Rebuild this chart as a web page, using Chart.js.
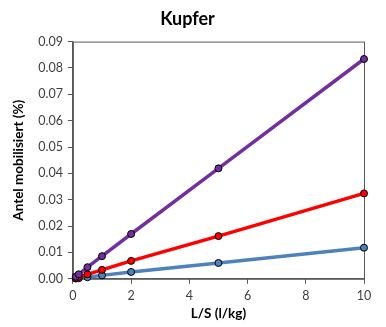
<!DOCTYPE html>
<html>
<head>
<meta charset="utf-8">
<script src="https://cdn.jsdelivr.net/npm/chart.js@4/dist/chart.umd.min.js"></script>
<style>
  html, body { margin: 0; padding: 0; background: #fff; }
  #wrap { width: 386px; height: 327px; }
</style>
</head>
<body>
<div id="wrap"><canvas id="kupferChart" width="386" height="327"></canvas></div>
<script>
const lsValues = [0.1, 0.2, 0.5, 1, 2, 5, 10];
const purpleValues = [0.0008, 0.0017, 0.0044, 0.0086, 0.0170, 0.0419, 0.0834];
const redValues = [0.0003, 0.0007, 0.0017, 0.0034, 0.0068, 0.0162, 0.0324];
const blueValues = [0.0001, 0.0002, 0.0006, 0.0013, 0.0026, 0.0060, 0.0118];
const xTicks = [0, 2, 4, 6, 8, 10];

const axisColor = "#595959";
const fontFamily = "Lato, 'Open Sans', sans-serif";

function toPoints(values) {
  return lsValues.map((x, i) => ({ x: x, y: values[i] }));
}

function makeSeries(label, values, color) {
  return {
    label: label,
    data: toPoints(values),
    borderColor: color,
    backgroundColor: color,
    borderWidth: 3.5,
    pointRadius: 3.5,
    pointBorderColor: "#000",
    pointBorderWidth: 1,
    pointBackgroundColor: color,
    tension: 0,
    clip: false,
  };
}

// draw the box round the plot area (top and right sides too)
const frameBox = {
  id: "frameBox",
  beforeDatasetsDraw(chart) {
    const { ctx, chartArea } = chart;
    ctx.save();
    ctx.strokeStyle = axisColor;
    ctx.lineWidth = 1;
    ctx.strokeRect(chartArea.left + 0.5, chartArea.top + 0.5,
      chartArea.right - chartArea.left, chartArea.bottom - chartArea.top);
    ctx.restore();
  },
};

new Chart(document.getElementById("kupferChart").getContext("2d"), {
  type: "line",
  data: {
    datasets: [
      makeSeries("Serie 1", purpleValues, "#7030A0"),
      makeSeries("Serie 2", redValues, "#FF0000"),
      makeSeries("Serie 3", blueValues, "#4F81BD"),
    ],
  },
  options: {
    responsive: false,
    animation: false,
    layout: { padding: { top: 6, right: 22, bottom: 0, left: 11 } },
    plugins: {
      legend: { display: false },
      tooltip: { enabled: false },
      title: {
        display: true,
        text: "Kupfer",
        color: "#000",
        font: { family: fontFamily, size: 18, weight: "bold" },
        padding: { top: 2, bottom: 12 },
      },
    },
    scales: {
      x: {
        type: "linear",
        min: 0,
        max: 10,
        afterBuildTicks: (axis) => {
          axis.ticks = xTicks.map((v) => ({ value: v }));
        },
        border: { color: axisColor, width: 1 },
        grid: { drawOnChartArea: false, drawTicks: true, tickLength: 5, color: axisColor },
        ticks: {
          color: "#404040",
          font: { family: fontFamily, size: 12.5 },
          padding: 5,
          maxRotation: 0,
        },
        title: {
          display: true,
          text: "L/S (l/kg)",
          color: "#000",
          font: { family: fontFamily, size: 13.5, weight: "bold" },
          padding: { top: -3, bottom: 5 },
        },
      },
      y: {
        min: 0,
        max: 0.09,
        ticks: {
          stepSize: 0.01,
          color: "#404040",
          font: { family: fontFamily, size: 12.5 },
          padding: 5,
          callback: (v) => v.toFixed(2),
        },
        border: { color: axisColor, width: 1 },
        grid: { drawOnChartArea: false, drawTicks: true, tickLength: 5, color: axisColor },
        title: {
          display: true,
          text: "Antel mobilisiert (%)",
          color: "#000",
          font: { family: fontFamily, size: 13.5, weight: "bold" },
          padding: { top: 0, bottom: 6 },
        },
      },
    },
  },
  plugins: [frameBox],
});
</script>
</body>
</html>
